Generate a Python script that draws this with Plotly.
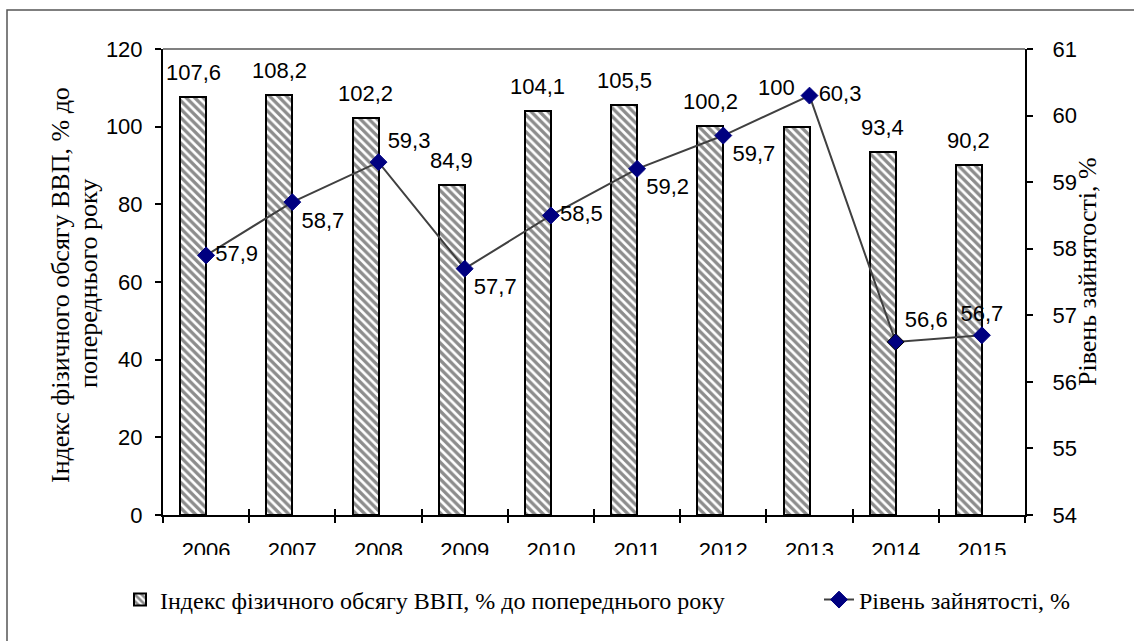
import plotly.graph_objects as go

years = ["2006", "2007", "2008", "2009", "2010", "2011", "2012", "2013", "2014", "2015"]
gdp_index = [107.6, 108.2, 102.2, 84.9, 104.1, 105.5, 100.2, 100.0, 93.4, 90.2]
employment = [57.9, 58.7, 59.3, 57.7, 58.5, 59.2, 59.7, 60.3, 56.6, 56.7]
left_ticks = [0, 20, 40, 60, 80, 100, 120]
right_ticks = [54, 55, 56, 57, 58, 59, 60, 61]

bar_name = "Індекс фізичного обсягу ВВП, % до попереднього року"
line_name = "Рівень зайнятості, %"
left_title_1 = "Індекс фізичного обсягу ВВП, % до"
left_title_2 = "попереднього року"
right_title = "Рівень зайнятості, %"

def fmt(v):
    return f"{v:g}".replace(".", ",")

line_pos = ["middle right", "bottom right", "top right", "bottom right", "middle right",
            "bottom right", "bottom right", "middle right", "top right", "top center"]
# label nudges (px) for bar value labels; 2013 label moved to avoid the line marker
bar_label_dx = [0, 0, 0, 0, 0, 0, 0, -20, 0, 0]
bar_label_dy = [0, 0, 0, 0, 0, 0, 0, 15, 0, 0]

SANS = "Liberation Sans"
SERIF = "Liberation Serif"

BAR_OFFSET, BAR_WIDTH = -0.3, 0.3

# plot area in pixels
L, R, T, B = 163, 1025, 49, 515
W, H = 1134, 641
PW, PH = R - L, B - T

def px(xp):
    return (xp - L) / PW

def py(yp):
    return (B - yp) / PH

fig = go.Figure()
fig.add_trace(go.Bar(
    x=years, y=gdp_index, name=bar_name, legend="legend",
    offset=BAR_OFFSET, width=BAR_WIDTH,
    marker=dict(color="white", line=dict(color="black", width=2),
                pattern=dict(shape="\\", fgcolor="#1a1a1a", bgcolor="white", size=6, solidity=0.55)),
    yaxis="y", hoverinfo="skip",
))
fig.add_trace(go.Scatter(
    x=years, y=employment, name=line_name, yaxis="y2", legend="legend2",
    mode="lines+markers+text",
    line=dict(color="#404040", width=2),
    marker=dict(symbol="diamond", size=13, color="#000080",
                line=dict(color=["#000080"] * 8 + ["black", "#000080"], width=1)),
    text=[fmt(v) for v in employment], textposition=line_pos,
    textfont=dict(family=SANS, size=22, color="black"), cliponaxis=False,
))

annotations = []
# bar value labels, centred over each bar (bar centre = category index + offset + width/2)
for i, v in enumerate(gdp_index):
    annotations.append(dict(
        x=i + BAR_OFFSET + BAR_WIDTH / 2, y=v, xref="x2", yref="y", text=fmt(v),
        showarrow=False, xanchor="center", yanchor="bottom",
        xshift=bar_label_dx[i], yshift=10 + bar_label_dy[i],
        font=dict(family=SANS, size=22, color="black")))
annotations += [
    dict(x=px(60), y=py(285), xref="paper", yref="paper", text=left_title_1, textangle=-90,
         showarrow=False, xanchor="center", yanchor="middle",
         font=dict(family=SERIF, size=26, color="black")),
    dict(x=px(88), y=py(284), xref="paper", yref="paper", text=left_title_2, textangle=-90,
         showarrow=False, xanchor="center", yanchor="middle",
         font=dict(family=SERIF, size=26, color="black")),
    dict(x=px(1087), y=py(272), xref="paper", yref="paper", text=right_title, textangle=-90,
         showarrow=False, xanchor="center", yanchor="middle",
         font=dict(family=SERIF, size=26, color="black")),
]

leg_y = py(600)

fig.update_layout(
    width=W, height=H,
    margin=dict(l=L, r=W - R, t=T, b=H - B, autoexpand=False),
    paper_bgcolor="white", plot_bgcolor="white",
    showlegend=True,
    legend=dict(orientation="h", x=px(120), y=leg_y, xanchor="left", yanchor="middle",
                font=dict(family=SERIF, size=24, color="black"),
                bgcolor="rgba(0,0,0,0)"),
    legend2=dict(orientation="h", x=px(819), y=leg_y, xanchor="left", yanchor="middle",
                 font=dict(family=SERIF, size=24, color="black"),
                 bgcolor="rgba(0,0,0,0)"),
    bargap=0,
    xaxis=dict(type="category", showline=True, linecolor="black", linewidth=2,
               ticks="outside", ticklen=6, tickwidth=2, tickcolor="black",
               tickson="boundaries", showgrid=False,
               tickfont=dict(family=SANS, size=22, color="black"),
               ticklabelstandoff=15, range=[-0.5, 9.5]),
    xaxis2=dict(overlaying="x", anchor="y", range=[-0.5, 9.5],
                tickvals=[i - 0.5 for i in range(11)], ticks="inside", ticklen=6,
                tickwidth=2, tickcolor="black", showticklabels=False,
                showline=False, showgrid=False, zeroline=False),
    yaxis=dict(range=[0, 120], tickvals=left_ticks, showline=True, linecolor="black", linewidth=2,
               ticks="outside", ticklen=6, tickwidth=2, tickcolor="black", showgrid=False,
               zeroline=False, tickfont=dict(family=SANS, size=22, color="black"),
               ticklabelstandoff=8),
    yaxis2=dict(range=[54, 61], tickvals=right_ticks, overlaying="y", side="right", anchor="x",
                showline=True, linecolor="black", linewidth=2,
                ticks="outside", ticklen=6, tickwidth=2, tickcolor="black", showgrid=False,
                zeroline=False, tickfont=dict(family=SANS, size=22, color="black"),
                ticklabelstandoff=15),
    yaxis3=dict(range=[0, 120], tickvals=left_ticks, overlaying="y", side="left", anchor="x",
                ticks="inside", ticklen=6, tickwidth=2, tickcolor="black", showticklabels=False,
                showline=False, showgrid=False, zeroline=False),
    yaxis4=dict(range=[54, 61], tickvals=right_ticks, overlaying="y", side="right", anchor="x",
                ticks="inside", ticklen=6, tickwidth=2, tickcolor="black", showticklabels=False,
                showline=False, showgrid=False, zeroline=False),
    annotations=annotations,
    shapes=[
        dict(type="line", xref="paper", yref="paper", x0=0, x1=1, y0=1, y1=1,
             line=dict(color="#808080", width=2), layer="above"),
        dict(type="rect", xref="paper", yref="paper",
             x0=px(150), x1=px(1045), y0=py(575), y1=py(555),
             fillcolor="white", line=dict(width=0), layer="above"),
        dict(type="rect", xref="paper", yref="paper",
             x0=px(7), x1=px(1150), y0=py(660), y1=py(10),
             fillcolor="rgba(0,0,0,0)", line=dict(color="#555555", width=1.5), layer="above"),
    ],
)

fig.write_html("out.html", config={"displayModeBar": False},
               post_script="document.body.style.margin='0';")
